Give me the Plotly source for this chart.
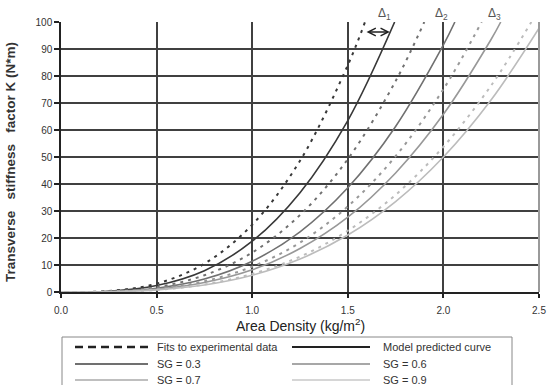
import plotly.graph_objects as go

# ---- data ----
sg_labels = ["SG = 0.3", "SG = 0.6", "SG = 0.7", "SG = 0.9"]

# model predicted curves (solid)
x_model_03 = [0, 0.25, 0.5, 0.75, 1.0, 1.25, 1.5, 1.745]
k_model_03 = [0, 0.3, 2.4, 7.9, 18.8, 36.8, 63.5, 100]
x_model_06 = [0, 0.25, 0.5, 0.75, 1.0, 1.25, 1.5, 1.75, 2.0, 2.06]
k_model_06 = [0, 0.2, 1.4, 4.8, 11.4, 22.3, 38.6, 61.3, 91.5, 100]
x_model_07 = [0, 0.25, 0.5, 0.75, 1.0, 1.25, 1.5, 1.75, 2.0, 2.25, 2.30]
k_model_07 = [0, 0.1, 1.0, 3.5, 8.2, 16.1, 27.7, 44.1, 65.8, 93.6, 100]
x_model_09 = [0, 0.25, 0.5, 0.75, 1.0, 1.25, 1.5, 1.75, 2.0, 2.25, 2.5]
k_model_09 = [0, 0.1, 0.8, 2.6, 6.2, 12.2, 21.1, 33.5, 50.0, 71.2, 97.7]

# fits to experimental data (dashed)
x_fit_03 = [0, 0.25, 0.5, 0.75, 1.0, 1.25, 1.5, 1.59]
k_fit_03 = [0, 0.4, 3.1, 10.5, 24.9, 48.6, 84.0, 100]
x_fit_06 = [0, 0.25, 0.5, 0.75, 1.0, 1.25, 1.5, 1.75, 1.90]
k_fit_06 = [0, 0.2, 1.8, 6.2, 14.6, 28.5, 49.2, 78.1, 100]
x_fit_07 = [0, 0.25, 0.5, 0.75, 1.0, 1.25, 1.5, 1.75, 2.0, 2.20]
k_fit_07 = [0, 0.1, 1.2, 4.0, 9.4, 18.3, 31.7, 50.3, 75.1, 100]
x_fit_09 = [0, 0.25, 0.5, 0.75, 1.0, 1.25, 1.5, 1.75, 2.0, 2.25, 2.46]
k_fit_09 = [0, 0.1, 0.8, 2.8, 6.7, 13.1, 22.7, 36.0, 53.8, 76.5, 100]

x_ticks = [0.0, 0.5, 1.0, 1.5, 2.0, 2.5]
y_ticks = [0, 10, 20, 30, 40, 50, 60, 70, 80, 90, 100]

delta_labels = ["Δ<sub>1</sub>", "Δ<sub>2</sub>", "Δ<sub>3</sub>"]
delta_x = [1.69, 1.99, 2.265]

legend_names = ["Fits to experimental data", "Model predicted curve"] + sg_labels

# ---- styles ----
colors = ["#383838", "#707070", "#989898", "#bcbcbc"]
legend_colors = ["#404040", "#8a8a8a", "#aaaaaa", "#c8c8c8"]
FONT = "Liberation Sans, Arial, sans-serif"
NB = "\u00a0"

# plot-area geometry in pixels (for converting legend layout to paper coords)
PL, PR, PT, PB = 61, 539, 22, 292
def px(xp):
    return (xp - PL) / (PR - PL)
def py(yp):
    return (PB - yp) / (PB - PT)

fig = go.Figure()

fits = [(x_fit_03, k_fit_03), (x_fit_06, k_fit_06), (x_fit_07, k_fit_07), (x_fit_09, k_fit_09)]
models = [(x_model_03, k_model_03), (x_model_06, k_model_06), (x_model_07, k_model_07), (x_model_09, k_model_09)]

for i in range(4):
    fx, fk = fits[i]
    fig.add_trace(go.Scatter(x=fx, y=fk, mode="lines", name="Fit " + sg_labels[i], showlegend=False,
                             line=dict(color=colors[i], width=2, dash="3px,5px", shape="spline"),
                             hoverinfo="skip"))
    mx, mk = models[i]
    fig.add_trace(go.Scatter(x=mx, y=mk, mode="lines", name="Model " + sg_labels[i], showlegend=False,
                             line=dict(color=colors[i], width=1.6, shape="spline"),
                             hoverinfo="skip"))

# right border in gray
fig.add_shape(type="line", xref="paper", yref="paper", x0=1, x1=1, y0=0, y1=1,
              line=dict(color="#9a9a9a", width=2), layer="above")

# ---- legend (drawn as a boxed key) ----
fig.add_shape(type="rect", xref="paper", yref="paper",
              x0=px(62), x1=px(512), y0=py(337), y1=py(395),
              line=dict(color="#888888", width=1), fillcolor="white", layer="above")
rows_y = [347, 364, 380]
col_sample = [(75, 148), (292, 370)]
col_text = [155, 381]
legend_styles = [
    dict(color="#222222", width=2.5, dash="8px,5px"),
    dict(color="#222222", width=2),
    dict(color=legend_colors[0], width=1.6),
    dict(color=legend_colors[1], width=1.6),
    dict(color=legend_colors[2], width=1.6),
    dict(color=legend_colors[3], width=1.6),
]
for k, name in enumerate(legend_names):
    r, c = divmod(k, 2)
    fig.add_shape(type="line", xref="paper", yref="paper",
                  x0=px(col_sample[c][0]), x1=px(col_sample[c][1]),
                  y0=py(rows_y[r]), y1=py(rows_y[r]),
                  line=legend_styles[k], layer="above")
    fig.add_annotation(x=px(col_text[c]), y=py(rows_y[r]), xref="paper", yref="paper",
                       text=name, showarrow=False, xanchor="left", yanchor="middle",
                       font=dict(family=FONT, size=11, color="#333333"))

# delta labels
for lab, xv in zip(delta_labels, delta_x):
    fig.add_annotation(x=xv, y=1.028, xref="x", yref="paper", text=lab, showarrow=False,
                       font=dict(family=FONT, size=12, color="#555555"),
                       xanchor="center", yanchor="middle")

# double arrow
fig.add_annotation(x=1.72, y=96.3, ax=1.59, ay=96.3, xref="x", yref="y", axref="x", ayref="y",
                   text="", showarrow=True, arrowside="end+start", arrowhead=5, startarrowhead=5,
                   arrowsize=1, startarrowsize=1, arrowwidth=1.5, arrowcolor="#222222",
                   standoff=0, startstandoff=0)

# axis titles
ytitle = f"<b>Transverse{NB}{NB}{NB}stiffness{NB}{NB}{NB}factor{NB}K{NB}(N*m)</b>"
fig.add_annotation(x=px(10), y=py(162), xref="paper", yref="paper",
                   text=ytitle, textangle=-90,
                   showarrow=False, font=dict(family=FONT, size=13.5, color="#333333"),
                   xanchor="center", yanchor="middle")
fig.add_annotation(x=0.5, y=py(325), xref="paper", yref="paper",
                   text="Area Density (kg/m<sup>2</sup>)",
                   showarrow=False, font=dict(family=FONT, size=14, color="#222222"),
                   xanchor="center", yanchor="middle")

fig.update_xaxes(range=[0, 2.5], tickvals=x_ticks, ticktext=[f"{v:.1f}" for v in x_ticks],
                 showgrid=True, gridcolor="#404040", gridwidth=1.5,
                 showline=True, linecolor="#222222", linewidth=1.5,
                 ticks="outside", ticklen=4, tickcolor="#222222", tickwidth=1.5,
                 ticklabelstandoff=4,
                 zeroline=False, tickfont=dict(family=FONT, size=10, color="#333333"))
fig.update_yaxes(range=[0, 100], tickvals=y_ticks,
                 showgrid=True, gridcolor="#404040", gridwidth=1.5,
                 showline=True, linecolor="#222222", linewidth=1.5,
                 ticks="outside", ticklen=5, tickcolor="#222222", tickwidth=1.5,
                 zeroline=False, tickfont=dict(family=FONT, size=10, color="#333333"))

fig.update_layout(
    width=548, height=385,
    margin=dict(l=PL, r=548 - PR, t=PT, b=385 - PB, autoexpand=False),
    plot_bgcolor="white", paper_bgcolor="white",
    font=dict(family=FONT, size=11, color="#333333"),
    showlegend=False,
)

fig.write_html("out.html", config={"displayModeBar": False},
               post_script="document.body.style.margin='0';document.body.style.overflow='hidden';")
